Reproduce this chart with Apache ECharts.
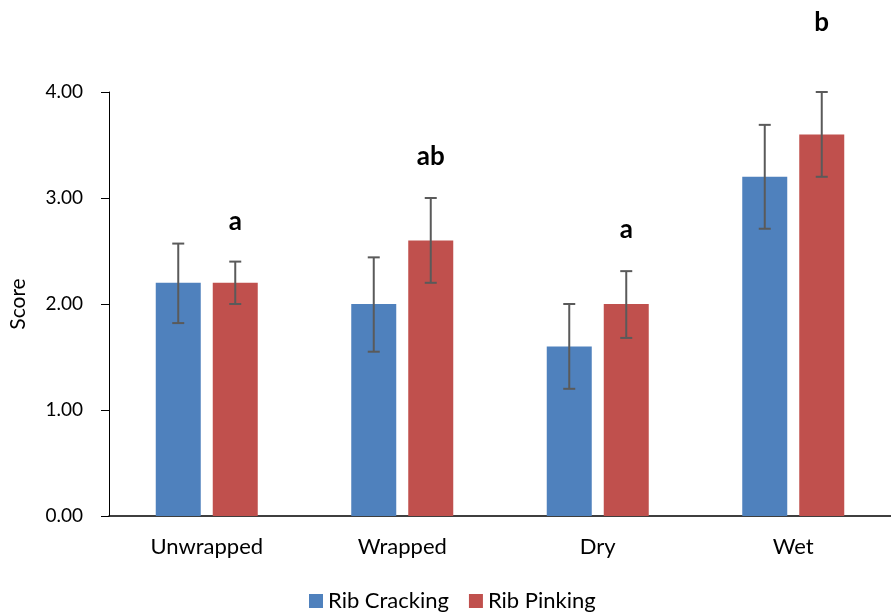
<!DOCTYPE html>
<html><head><meta charset="utf-8">
<script src="https://cdn.jsdelivr.net/npm/echarts@6/dist/echarts.min.js"></script>
<style>html,body{margin:0;padding:0;background:#fff}#c{width:891px;height:612px}</style>
</head><body><div id="c"></div>
<script>
const categories = ['Unwrapped', 'Wrapped', 'Dry', 'Wet'];
const crackingMean = [2.2, 2.0, 1.6, 3.2];
const crackingLow  = [1.82, 1.55, 1.2, 2.71];
const crackingHigh = [2.57, 2.44, 2.0, 3.69];
const pinkingMean = [2.2, 2.6, 2.0, 3.6];
const pinkingLow  = [2.0, 2.2, 1.68, 3.2];
const pinkingHigh = [2.4, 3.0, 2.31, 4.0];
const letters  = ['a', 'ab', 'a', 'b'];
const lettersY = [2.78, 3.39, 2.70, 4.65];
const yTicks = [0, 1, 2, 3, 4];

const BAR_W = 45, GAP_PX = 12;
const FONT = 'Lato, "Open Sans", sans-serif';
const shift = (BAR_W + GAP_PX) / 2;

function errSeries(low, high, dir) {
  return {
    type: 'custom', z: 10, silent: true,
    data: low.map((l, i) => [i, l, high[i]]),
    renderItem: function (params, api) {
      const i = api.value(0);
      const p1 = api.coord([i, api.value(1)]);
      const p2 = api.coord([i, api.value(2)]);
      const x = p1[0] + dir * shift;
      const cw = 6;
      const st = {stroke: '#5a5a5a', lineWidth: 2};
      return {type: 'group', children: [
        {type: 'line', shape: {x1: x, y1: p1[1], x2: x, y2: p2[1]}, style: st},
        {type: 'line', shape: {x1: x - cw, y1: p1[1], x2: x + cw, y2: p1[1]}, style: st},
        {type: 'line', shape: {x1: x - cw, y1: p2[1], x2: x + cw, y2: p2[1]}, style: st}
      ]};
    }
  };
}

const chart = echarts.init(document.getElementById('c'));
chart.setOption({
  animation: false,
  grid: {left: 108, top: 92, width: 792, bottom: 96, containLabel: false},
  legend: {
    bottom: 0, left: 309, padding: 0, itemWidth: 14, itemHeight: 14, itemGap: 20, icon: 'rect',
    textStyle: {fontFamily: FONT, fontSize: 22, color: '#000'},
    data: ['Rib Cracking', 'Rib Pinking']
  },
  xAxis: {
    type: 'category', data: categories,
    axisLine: {lineStyle: {color: '#000', width: 1.5}},
    axisTick: {show: false},
    axisLabel: {fontFamily: FONT, fontSize: 22, color: '#000', margin: 20}
  },
  yAxis: {
    type: 'value', min: yTicks[0], max: yTicks[yTicks.length - 1], interval: 1,
    name: 'Score', nameLocation: 'middle', nameGap: 80, nameRotate: 90,
    nameTextStyle: {fontFamily: FONT, fontSize: 21, color: '#000'},
    axisLine: {show: true, lineStyle: {color: '#000', width: 1}},
    axisTick: {show: true, length: 8, lineStyle: {color: '#000'}},
    splitLine: {show: false},
    axisLabel: {fontFamily: FONT, fontSize: 19, color: '#000', margin: 26,
      formatter: v => v.toFixed(2)}
  },
  series: [
    {name: 'Rib Cracking', type: 'bar', data: crackingMean, barWidth: BAR_W,
      barGap: (GAP_PX / BAR_W * 100) + '%', itemStyle: {color: '#4f81bd'}},
    {name: 'Rib Pinking', type: 'bar', data: pinkingMean, barWidth: BAR_W,
      itemStyle: {color: '#c0504d'}},
    errSeries(crackingLow, crackingHigh, -1),
    errSeries(pinkingLow, pinkingHigh, 1),
    {
      type: 'custom', z: 11, silent: true, clip: false,
      data: lettersY.map((y, i) => [i, y, letters[i]]),
      renderItem: function (params, api) {
        const p = api.coord([api.value(0), api.value(1)]);
        return {type: 'text', style: {
          x: p[0] + shift, y: p[1], text: letters[params.dataIndex],
          fontFamily: FONT, fontSize: 26, fontWeight: 'bold', fill: '#000',
          align: 'center', verticalAlign: 'middle'}};
      }
    }
  ]
});
</script></body></html>
